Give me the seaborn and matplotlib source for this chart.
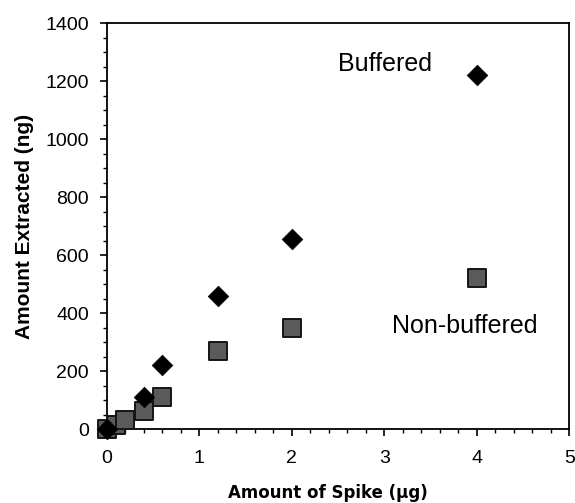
import matplotlib
matplotlib.use("Agg")
import matplotlib.pyplot as plt
import seaborn as sns
import pandas as pd
from matplotlib.ticker import MultipleLocator

buf_x = [0, 0.4, 0.6, 1.2, 2, 4]
buf_y = [0, 110, 220, 460, 655, 1220]
non_x = [0, 0.1, 0.2, 0.4, 0.6, 1.2, 2, 4]
non_y = [0, 15, 32, 62, 110, 270, 350, 520]

sns.set_theme(style="ticks")
plt.rcParams['font.family'] = ['Liberation Sans', 'DejaVu Sans']
plt.rcParams['text.color'] = 'black'
plt.rcParams['axes.labelcolor'] = 'black'

fig = plt.figure(figsize=(5.75, 5.03), dpi=100)
ax = fig.add_axes([0.186, 0.147, 0.804, 0.807])

df_non = pd.DataFrame({"x": non_x, "y": non_y})
df_buf = pd.DataFrame({"x": buf_x, "y": buf_y})
sns.scatterplot(data=df_non, x="x", y="y", ax=ax, marker="s", s=150,
                color="#5a5a5a", edgecolor="#151515", linewidth=1.4, zorder=3)
sns.scatterplot(data=df_buf, x="x", y="y", ax=ax, marker="D", s=110,
                color="black", edgecolor="black", linewidth=0.5, zorder=4)
for c in ax.collections:
    c.set_clip_on(False)

ax.set_xlim(0, 5)
ax.set_ylim(0, 1400)
ax.xaxis.set_major_locator(MultipleLocator(1))
ax.xaxis.set_minor_locator(MultipleLocator(0.2))
ax.yaxis.set_major_locator(MultipleLocator(200))
ax.yaxis.set_minor_locator(MultipleLocator(50))
ax.tick_params(which="major", direction="out", length=5, width=1.2, colors="black",
               labelsize=14)
ax.tick_params(axis="x", which="major", pad=10)
ax.tick_params(axis="y", which="major", pad=8)
ax.tick_params(which="minor", direction="out", length=3, width=1, colors="black")
for s in ax.spines.values():
    s.set_visible(True)
    s.set_color("black")
    s.set_linewidth(1.3)

ax.set_xlabel("Amount of Spike (µg)", fontsize=12, fontweight="bold",
              family=["DejaVu Sans"])
ax.xaxis.set_label_coords(0.478, -0.135)
ax.set_ylabel("Amount Extracted (ng)", fontsize=15, fontweight="bold", labelpad=8)

ax.text(3.01, 1259, "Buffered", fontsize=18, ha="center", va="center")
ax.text(3.87, 355, "Non-buffered", fontsize=18, ha="center", va="center")

fig.savefig("out.png", dpi=100)
